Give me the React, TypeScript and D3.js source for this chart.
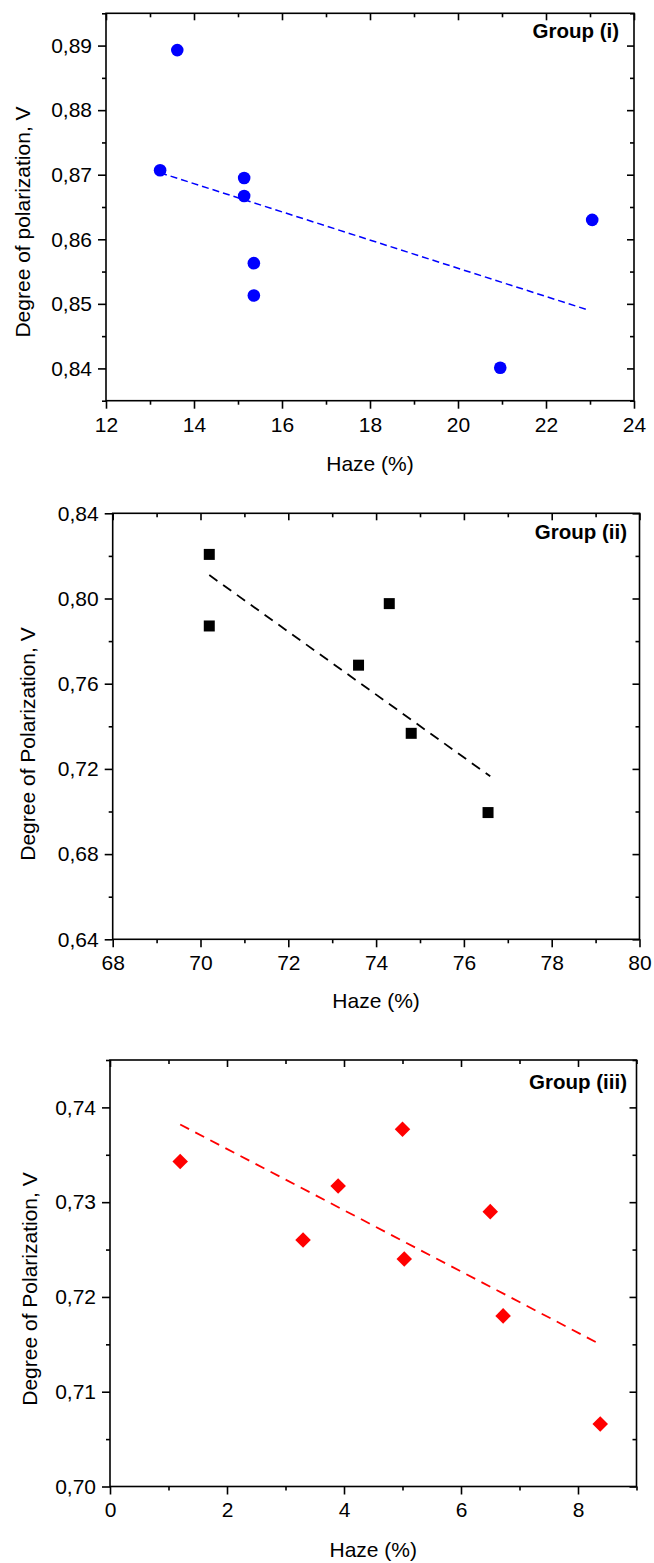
import React, { useRef, useEffect } from 'react'
import * as d3 from 'd3'

// Trois nuages de points (haze vs degré de polarisation) avec droite de tendance.
// Valeurs.

// Groupe (i)
const hazeI = [13.23, 13.62, 15.14, 15.14, 15.36, 15.36, 20.96, 23.05]
const dopI = [0.8707, 0.8893, 0.8695, 0.8667, 0.8563, 0.8513, 0.8401, 0.863]
const fitHazeI = [13.23, 22.98]
const fitDopI = [0.8703, 0.849]
const xTicksI = [12, 14, 16, 18, 20, 22, 24]
const yTicksI = [0.84, 0.85, 0.86, 0.87, 0.88, 0.89]

// Groupe (ii)
const hazeII = [70.2, 70.2, 73.6, 74.3, 74.8, 76.55]
const dopII = [0.8207, 0.7871, 0.7687, 0.7976, 0.7367, 0.6995]
const fitHazeII = [70.2, 76.6]
const fitDopII = [0.811, 0.7165]
const xTicksII = [68, 70, 72, 74, 76, 78, 80]
const yTicksII = [0.64, 0.68, 0.72, 0.76, 0.8, 0.84]

// Groupe (iii)
const hazeIII = [1.2, 3.3, 3.9, 5.0, 5.03, 6.5, 6.72, 8.38]
const dopIII = [0.7343, 0.726, 0.7317, 0.7377, 0.724, 0.729, 0.718, 0.7066]
const fitHazeIII = [1.2, 8.38]
const fitDopIII = [0.7382, 0.715]
const xTicksIII = [0, 2, 4, 6, 8]
const yTicksIII = [0.7, 0.71, 0.72, 0.73, 0.74]

const groupLabels = ['Group (i)', 'Group (ii)', 'Group (iii)']
const yTitles = ['Degree of polarization, V', 'Degree of Polarization, V', 'Degree of Polarization, V']
const xTitle = 'Haze (%)'

const FONT = "'Liberation Sans', Arial, Helvetica, sans-serif"
const W = 654
const H = 1563

const locale = d3.formatLocale({ decimal: ',', thousands: '.', grouping: [3], currency: ['', ''] })
const fmt2 = locale.format('.2f')

const panels = [
  {
    haze: hazeI, dop: dopI, fitX: fitHazeI, fitY: fitDopI,
    xTicks: xTicksI, yTicks: yTicksI, xDomain: [12, 24], yDomain: [0.835, 0.895],
    color: '#0000ff', marker: 'circle', group: groupLabels[0], yTitle: yTitles[0],
    box: { left: 106, right: 634, top: 13.3, bottom: 400.7 },
    yTitleX: 30, yTitleY: 222, xTitleY: 471, groupX: 619, groupY: 38,
  },
  {
    haze: hazeII, dop: dopII, fitX: fitHazeII, fitY: fitDopII,
    xTicks: xTicksII, yTicks: yTicksII, xDomain: [68, 80], yDomain: [0.64, 0.84],
    color: '#000000', marker: 'square', group: groupLabels[1], yTitle: yTitles[1],
    box: { left: 112.7, right: 639.5, top: 513.3, bottom: 939.3 },
    yTitleX: 35, yTitleY: 744, xTitleY: 1008, groupX: 627, groupY: 539,
  },
  {
    haze: hazeIII, dop: dopIII, fitX: fitHazeIII, fitY: fitDopIII,
    xTicks: xTicksIII, yTicks: yTicksIII, xDomain: [0, 9], yDomain: [0.7, 0.745],
    color: '#ff0000', marker: 'diamond', group: groupLabels[2], yTitle: yTitles[2],
    box: { left: 110, right: 636.5, top: 1060, bottom: 1486.5 },
    yTitleX: 37, yTitleY: 1289, xTitleY: 1557, groupX: 627, groupY: 1089,
  },
]

// ticks mineurs : à mi-chemin des majeurs, dans le domaine
const minorTicks = (major, domain) => {
  const step = major[1] - major[0]
  const out = []
  for (let i = -1; i < major.length; i++) {
    const v = (i < 0 ? major[0] : major[i]) + (i < 0 ? -step / 2 : step / 2)
    if (v >= domain[0] - 1e-9 && v <= domain[1] + 1e-9) out.push(+v.toFixed(6))
  }
  return out
}

function drawPanel(svg, p) {
  const b = p.box
  const x = d3.scaleLinear().domain(p.xDomain).range([b.left, b.right])
  const y = d3.scaleLinear().domain(p.yDomain).range([b.bottom, b.top])
  const g = svg.append('g')

  const style = (sel) => {
    sel.select('.domain').remove()
    sel.selectAll('.tick line').attr('stroke', '#000').attr('stroke-width', 1.6)
    sel.selectAll('.tick text').attr('fill', '#000').style('font-family', FONT).style('font-size', '21px')
  }

  const xMinor = minorTicks(p.xTicks, p.xDomain)
  const yMinor = minorTicks(p.yTicks, p.yDomain)

  // axe du bas (ticks sortants + libellés)
  g.append('g').attr('transform', `translate(0,${b.bottom})`)
    .call(d3.axisBottom(x).tickValues(p.xTicks).tickSize(8).tickPadding(8).tickFormat(d3.format('d')))
    .call(style)
  g.append('g').attr('transform', `translate(0,${b.bottom})`)
    .call(d3.axisBottom(x).tickValues(xMinor).tickSize(4).tickFormat(''))
    .call(style)
  // axe de gauche
  g.append('g').attr('transform', `translate(${b.left},0)`)
    .call(d3.axisLeft(y).tickValues(p.yTicks).tickSize(8).tickPadding(6).tickFormat(fmt2))
    .call(style)
  g.append('g').attr('transform', `translate(${b.left},0)`)
    .call(d3.axisLeft(y).tickValues(yMinor).tickSize(4).tickFormat(''))
    .call(style)
  // axes miroirs (haut / droite), ticks rentrants
  g.append('g').attr('transform', `translate(0,${b.top})`)
    .call(d3.axisTop(x).tickValues(p.xTicks).tickSize(-7).tickFormat(''))
    .call(style)
  g.append('g').attr('transform', `translate(0,${b.top})`)
    .call(d3.axisTop(x).tickValues(xMinor).tickSize(-4).tickFormat(''))
    .call(style)
  g.append('g').attr('transform', `translate(${b.right},0)`)
    .call(d3.axisRight(y).tickValues(p.yTicks).tickSize(-7).tickFormat(''))
    .call(style)
  g.append('g').attr('transform', `translate(${b.right},0)`)
    .call(d3.axisRight(y).tickValues(yMinor).tickSize(-4).tickFormat(''))
    .call(style)

  // cadre
  g.append('rect')
    .attr('x', b.left).attr('y', b.top)
    .attr('width', b.right - b.left).attr('height', b.bottom - b.top)
    .attr('fill', 'none').attr('stroke', '#000').attr('stroke-width', 1.6)

  // droite de tendance
  const fit = p.fitX.map((v, i) => [v, p.fitY[i]])
  g.append('path')
    .datum(fit)
    .attr('fill', 'none')
    .attr('stroke', p.color)
    .attr('stroke-width', p.marker === 'circle' ? 1.5 : 1.8)
    .attr('stroke-dasharray', p.marker === 'circle' ? '7,4' : '10,7')
    .attr('d', d3.line().x((d) => x(d[0])).y((d) => y(d[1])))

  // points
  const pts = p.haze.map((v, i) => [v, p.dop[i]])
  if (p.marker === 'circle') {
    g.selectAll('circle.pt').data(pts).join('circle')
      .attr('class', 'pt')
      .attr('cx', (d) => x(d[0])).attr('cy', (d) => y(d[1])).attr('r', 6.3)
      .attr('fill', p.color)
  } else {
    const sym = d3.symbol(d3.symbolSquare, 121)
    g.selectAll('path.pt').data(pts).join('path')
      .attr('class', 'pt')
      .attr('d', sym)
      .attr('transform', (d) => `translate(${x(d[0])},${y(d[1])})${p.marker === 'diamond' ? ' rotate(45)' : ''}`)
      .attr('fill', p.color)
  }

  // titres
  g.append('text')
    .attr('x', (b.left + b.right) / 2).attr('y', p.xTitleY)
    .attr('text-anchor', 'middle')
    .style('font-family', FONT).style('font-size', '21px')
    .text(xTitle)
  g.append('text')
    .attr('transform', `translate(${p.yTitleX},${p.yTitleY}) rotate(-90)`)
    .attr('text-anchor', 'middle')
    .style('font-family', FONT).style('font-size', '21px')
    .text(p.yTitle)
  g.append('text')
    .attr('x', p.groupX).attr('y', p.groupY)
    .attr('text-anchor', 'end')
    .style('font-family', FONT).style('font-size', '20.5px').style('font-weight', '700')
    .text(p.group)
}

export default function App() {
  const svgRef = useRef(null)

  useEffect(() => {
    const svg = d3.select(svgRef.current)
    svg.selectAll('*').remove()
    panels.forEach((p) => drawPanel(svg, p))
  }, [])

  return (
    <div style={{ position: 'absolute', left: 0, top: 0, background: '#fff' }}>
      <svg ref={svgRef} width={W} height={H} viewBox={`0 0 ${W} ${H}`} style={{ display: 'block' }} />
    </div>
  )
}
